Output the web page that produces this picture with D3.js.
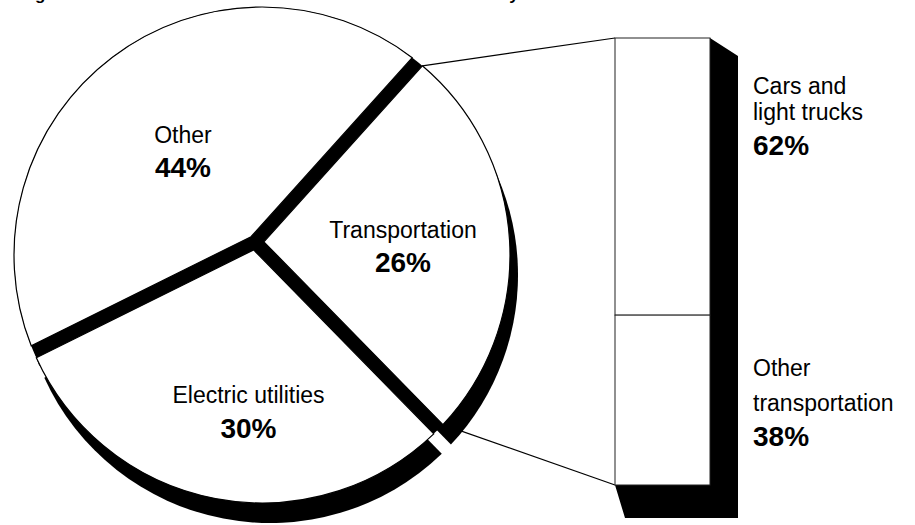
<!DOCTYPE html>
<html><head><meta charset="utf-8">
<script src="https://cdn.jsdelivr.net/npm/d3@7"></script>
<style>body{margin:0;background:#fff}svg{display:block}</style>
</head><body>
<script>
// ---- data ----
const sectors = ["Transportation", "Electric utilities", "Other"];
const sectorShares = [26, 30, 44];
const transportParts = ["Cars and light trucks", "Other transportation"];
const transportShares = [62, 38];
const sectorLabelLines = [["Transportation"], ["Electric utilities"], ["Other"]];
const transportLabelLines = [["Cars and", "light trucks"], ["Other", "transportation"]];
const titleText = "Figure 3. U.S. Carbon Dioxide Emissions from Fossil Fuels by End-Use Sector";

// ---- layout ----
const W = 915, H = 525;
const FONT = "'Liberation Sans', Arial, Helvetica, sans-serif";
const J = [255, 242];      // angular centre of the pie
const O = [262, 255];      // centre of the outer rim
const R = 248;
const gapW = 13;
const shadowOff = [8, 20];
const startDeg = 42;
const sectorLabelPos = [[403, 238, 272], [248.5, 403, 438], [183, 143, 177]];
const barX0 = 615, barX1 = 710;
const transportLabelX = 753;
const transportLabelY = [[94, 120, 155], [376, 411, 446]];

const svg = d3.select("body").append("svg").attr("width", W).attr("height", H);

// title (largely above the visible area, as in the reference)
svg.append("text").attr("x", 20).attr("y", 0)
  .attr("font-family", FONT).attr("font-weight", "bold").attr("font-size", 17)
  .text(titleText);

const pie = d3.pie().sort(null).value(d => d)
  .startAngle(startDeg * Math.PI / 180)
  .endAngle(startDeg * Math.PI / 180 + 2 * Math.PI);
const arcs = pie(sectorShares);

function dir(a) { return [Math.sin(a), -Math.cos(a)]; }
function perp(a) { return [Math.cos(a), Math.sin(a)]; }
function lineCircle(P, d, C, r) {
  const fx = P[0] - C[0], fy = P[1] - C[1];
  const b = fx * d[0] + fy * d[1];
  const c = fx * fx + fy * fy - r * r;
  const t = -b + Math.sqrt(b * b - c);
  return [P[0] + t * d[0], P[1] + t * d[1]];
}
function intersect(P1, d1, P2, d2) {
  const den = d1[0] * d2[1] - d1[1] * d2[0];
  const t = ((P2[0] - P1[0]) * d2[1] - (P2[1] - P1[1]) * d2[0]) / den;
  return [P1[0] + t * d1[0], P1[1] + t * d1[1]];
}
function sliceGeom(a) {
  const a0 = a.startAngle, a1 = a.endAngle;
  const d0 = dir(a0), d1 = dir(a1), n0 = perp(a0), n1 = perp(a1);
  const P0 = [J[0] + n0[0] * gapW / 2, J[1] + n0[1] * gapW / 2];
  const P1 = [J[0] - n1[0] * gapW / 2, J[1] - n1[1] * gapW / 2];
  const apex = intersect(P0, d0, P1, d1);
  const E0 = lineCircle(P0, d0, O, R), E1 = lineCircle(P1, d1, O, R);
  return { apex, E0, E1 };
}
function slicePath(a) {
  const g = sliceGeom(a);
  const t0 = Math.atan2(g.E0[1] - O[1], g.E0[0] - O[0]);
  const t1 = Math.atan2(g.E1[1] - O[1], g.E1[0] - O[0]);
  const p = d3.path();
  p.moveTo(g.apex[0], g.apex[1]);
  p.lineTo(g.E0[0], g.E0[1]);
  p.arc(O[0], O[1], R, t0, t1, false);
  p.closePath();
  return p.toString();
}

// bar scale
const y = d3.scaleLinear().domain([0, 100]).range([38, 485]);
const stackData = [];
let acc = 0;
transportShares.forEach((v, i) => { stackData.push({ name: transportParts[i], v, y0: acc, y1: acc + v }); acc += v; });

// connectors (drawn first, partly hidden by the pie shadow)
const tg = sliceGeom(arcs[0]);
svg.append("line").attr("x1", tg.E0[0]).attr("y1", tg.E0[1]).attr("x2", barX0).attr("y2", y(0))
  .attr("stroke", "#000").attr("stroke-width", 1.2);
svg.append("line").attr("x1", tg.E1[0]).attr("y1", tg.E1[1]).attr("x2", barX0).attr("y2", y(100))
  .attr("stroke", "#000").attr("stroke-width", 1.2);

// pie shadows
svg.append("g").attr("transform", `translate(${shadowOff[0]},${shadowOff[1]})`)
  .selectAll("path").data(arcs).join("path")
  .attr("d", slicePath).attr("fill", "#000");

// black base visible through the gaps
svg.append("circle").attr("cx", O[0]).attr("cy", O[1]).attr("r", R).attr("fill", "#000");

// faces
svg.append("g").selectAll("path").data(arcs).join("path")
  .attr("d", slicePath).attr("fill", "#fff").attr("stroke", "#000").attr("stroke-width", 1.2)
  .attr("stroke-linejoin", "miter");

// sector labels
arcs.forEach((a, i) => {
  const [cx, yName, yPct] = sectorLabelPos[i];
  svg.append("text").attr("x", cx).attr("y", yName).attr("text-anchor", "middle")
    .attr("font-family", FONT).attr("font-size", 23).text(sectorLabelLines[i][0]);
  svg.append("text").attr("x", cx).attr("y", yPct).attr("text-anchor", "middle")
    .attr("font-family", FONT).attr("font-size", 28).attr("font-weight", "bold")
    .text(sectorShares[i] + "%");
});

// bar shadow (extruded)
const fy0 = y(0), fy1 = y(100);
const back = { x0: barX0 + 10, x1: barX1 + 28, y0: fy0 + 18, y1: fy1 + 33 };
svg.append("path")
  .attr("d", d3.line()([[barX1, fy0], [back.x1, back.y0], [back.x1, back.y1], [back.x0, back.y1],
    [barX0, fy1], [barX1, fy1]]) + "Z")
  .attr("fill", "#000");

// stacked bar
svg.append("g").selectAll("rect").data(stackData).join("rect")
  .attr("x", barX0).attr("width", barX1 - barX0)
  .attr("y", d => y(d.y0)).attr("height", d => y(d.y1) - y(d.y0))
  .attr("fill", "#fff").attr("stroke", "#222").attr("stroke-width", 1);

// bar labels
stackData.forEach((d, i) => {
  const ys = transportLabelY[i];
  transportLabelLines[i].forEach((ln, k) => {
    svg.append("text").attr("x", transportLabelX).attr("y", ys[k])
      .attr("font-family", FONT).attr("font-size", 23).text(ln);
  });
  svg.append("text").attr("x", transportLabelX).attr("y", ys[2])
    .attr("font-family", FONT).attr("font-size", 28).attr("font-weight", "bold").text(d.v + "%");
});
</script>
</body></html>
